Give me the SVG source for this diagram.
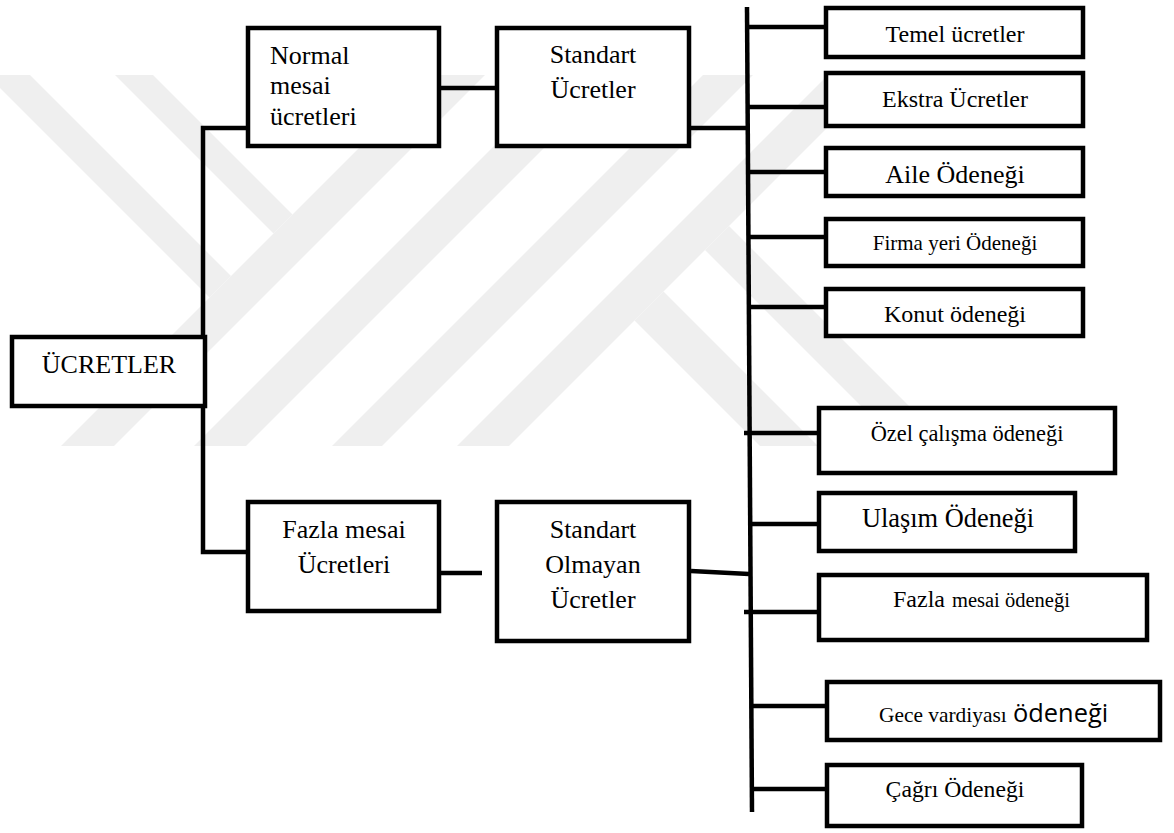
<svg xmlns="http://www.w3.org/2000/svg" width="1174" height="833" viewBox="0 0 1174 833">
<defs>
<style>
.box{fill:#fff;stroke:#000;stroke-width:4.5}
.ln{fill:none;stroke:#000;stroke-width:4.5}
.t{font-family:"Liberation Serif","Times New Roman",serif;fill:#000}
.c{text-anchor:middle}
.wm{fill:#efefef}
</style>
<clipPath id="wmclip"><rect x="0" y="75" width="1174" height="371"/></clipPath>
</defs>
<rect width="1174" height="833" fill="#fff"/>
<g id="watermark" clip-path="url(#wmclip)">
<polygon class="wm" points="-13,75 30,75 231,276 209.5,297.5"/>
<polygon class="wm" points="115,75 153,75 292.5,214.5 273.5,233.5"/>
<polygon class="wm" points="432,75 485,75 113,447 60,447"/>
<polygon class="wm" points="565,75 617,75 245,447 193,447"/>
<polygon class="wm" points="703,75 753,75 381,447 331,447"/>
<polygon class="wm" points="828,75 880,75 508,447 456,447"/>
<polygon class="wm" points="729,226 963,460 915,460 705,250"/>
<polygon class="wm" points="663.5,291.5 832,460 774,460 634.5,320.5"/>
</g>
<g id="connectors">
<polyline class="ln" points="248,128 203,128 203,552 248,552"/>
<line class="ln" x1="441" y1="88" x2="497" y2="88"/>
<line class="ln" x1="691" y1="128" x2="748" y2="128"/>
<line class="ln" x1="441" y1="573" x2="482" y2="573"/>
<line class="ln" x1="691" y1="571" x2="749" y2="574"/>
<line class="ln" x1="747" y1="7" x2="752" y2="812"/>
<line class="ln" x1="747" y1="27" x2="826" y2="27"/>
<line class="ln" x1="747" y1="107" x2="826" y2="107"/>
<line class="ln" x1="750" y1="172" x2="826" y2="172"/>
<line class="ln" x1="750" y1="237" x2="826" y2="237"/>
<line class="ln" x1="748" y1="307" x2="826" y2="307"/>
<line class="ln" x1="744" y1="433" x2="819" y2="433"/>
<line class="ln" x1="750" y1="524" x2="819" y2="524"/>
<line class="ln" x1="744" y1="612" x2="819" y2="612"/>
<line class="ln" x1="752" y1="706" x2="827" y2="706"/>
<line class="ln" x1="752" y1="789" x2="827" y2="789"/>
</g>
<g id="ucretler">
<rect class="box" x="12" y="337" width="193" height="69"/>
<text class="t c" x="109" y="373" font-size="26">ÜCRETLER</text>
</g>
<g id="normal-mesai">
<rect class="box" x="248" y="28" width="191" height="118"/>
<text class="t" x="270" y="64" font-size="26">Normal</text>
<text class="t" x="270" y="94" font-size="26">mesai</text>
<text class="t" x="270" y="125" font-size="26">ücretleri</text>
</g>
<g id="standart">
<rect class="box" x="497" y="28" width="192" height="118"/>
<text class="t c" x="593" y="63" font-size="26">Standart</text>
<text class="t c" x="593" y="98" font-size="26">Ücretler</text>
</g>
<g id="fazla-mesai">
<rect class="box" x="248" y="502" width="191" height="109"/>
<text class="t c" x="344" y="538" font-size="26">Fazla mesai</text>
<text class="t c" x="344" y="573" font-size="26">Ücretleri</text>
</g>
<g id="standart-olmayan">
<rect class="box" x="497" y="502" width="192" height="139"/>
<text class="t c" x="593" y="538" font-size="26">Standart</text>
<text class="t c" x="593" y="573" font-size="26">Olmayan</text>
<text class="t c" x="593" y="608" font-size="26">Ücretler</text>
</g>
<g id="temel">
<rect class="box" x="826" y="8" width="257" height="49"/>
<text class="t c" x="955" y="42" font-size="24">Temel ücretler</text>
</g>
<g id="ekstra">
<rect class="box" x="826" y="73" width="257" height="53"/>
<text class="t c" x="955" y="107" font-size="24">Ekstra Ücretler</text>
</g>
<g id="aile">
<rect class="box" x="826" y="148" width="257" height="48"/>
<text class="t c" x="955" y="183" font-size="26">Aile Ödeneği</text>
</g>
<g id="firma">
<rect class="box" x="826" y="219" width="257" height="47"/>
<text class="t c" x="955" y="250" font-size="21">Firma yeri Ödeneği</text>
</g>
<g id="konut">
<rect class="box" x="826" y="289" width="257" height="47"/>
<text class="t c" x="955" y="322" font-size="24">Konut ödeneği</text>
</g>
<g id="ozel">
<rect class="box" x="819" y="408" width="296" height="65"/>
<text class="t c" x="967" y="441" font-size="22.4">Özel çalışma ödeneği</text>
</g>
<g id="ulasim">
<rect class="box" x="819" y="493" width="256" height="58"/>
<text class="t c" x="948" y="527" font-size="26.4">Ulaşım Ödeneği</text>
</g>
<g id="fazla-odenek">
<rect class="box" x="819" y="575" width="328" height="65"/>
<text class="t" y="607"><tspan x="893" font-size="24">Fazla</tspan><tspan x="952" font-size="20.5">mesai ödeneği</tspan></text>
</g>
<g id="gece">
<rect class="box" x="827" y="682" width="333" height="58"/>
<text class="t" y="722"><tspan x="879" font-size="21.4">Gece vardiyası</tspan><tspan x="1013" font-size="25.4" font-family="'Open Sans','Noto Sans',sans-serif">ödeneği</tspan></text>
</g>
<g id="cagri">
<rect class="box" x="827" y="765" width="255" height="61"/>
<text class="t c" x="955" y="797" font-size="23.7">Çağrı Ödeneği</text>
</g>
</svg>
